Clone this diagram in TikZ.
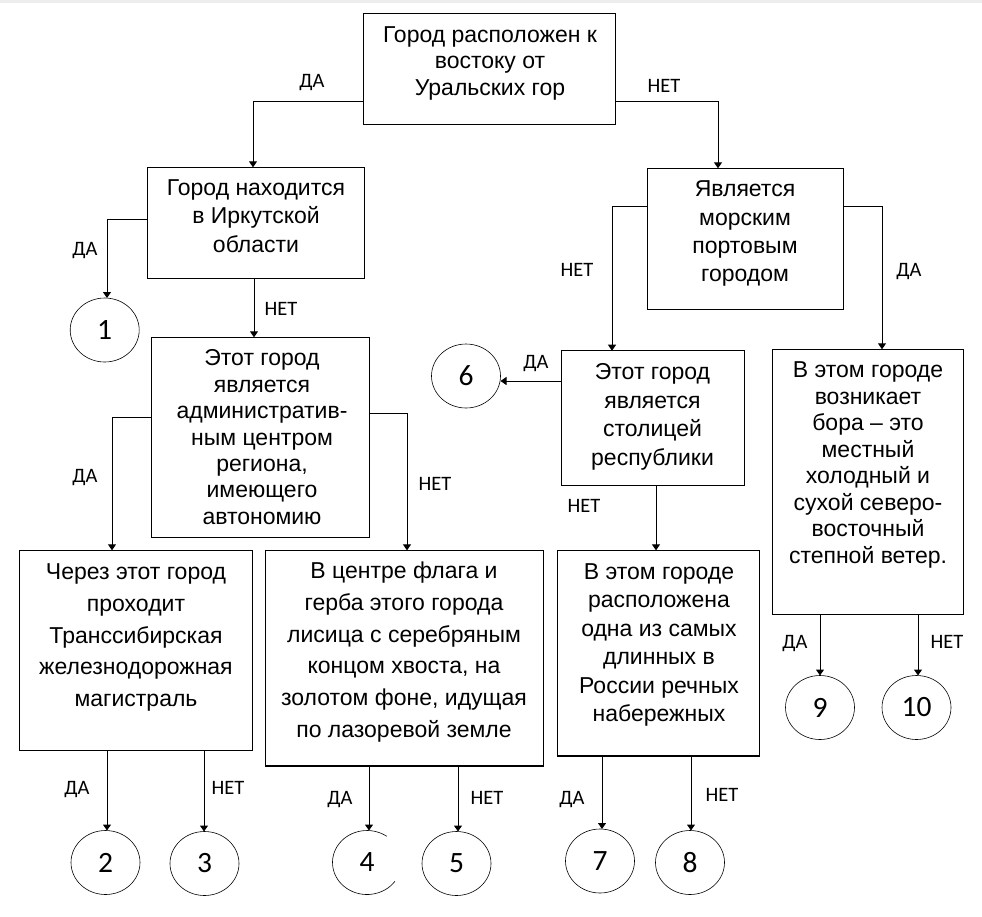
\documentclass[tikz,border=0pt]{standalone}
\usepackage{fontspec}
\setmainfont{Liberation Sans}
\newfontfamily\lblfont{Carlito}
\usetikzlibrary{arrows.meta,shapes.geometric}
\begin{document}
\begin{tikzpicture}[x=1pt,y=-1pt,
  box/.style={draw, line width=1.3pt, inner sep=0pt, outer sep=0pt},
  btxt/.style={anchor=base, align=center, inner sep=0pt, font={\fontsize{23}{#1}\selectfont}},
  circ/.style={ellipse, draw, line width=0.6pt, minimum width=69pt, minimum height=64pt, inner sep=0pt, outer sep=0pt, font={\lblfont\fontsize{29.5}{30}\selectfont}},
  lbl/.style={anchor=base, inner sep=0pt, font={\lblfont\fontsize{20.5}{22}\selectfont}},
  conn/.style={line width=1pt, -{Triangle[width=8pt,length=6pt]}}]
\useasboundingbox (0,0) rectangle (982,916);
\fill[black!7] (0,0) rectangle (982,2.5);

% boxes
\node[box, minimum width=252pt, minimum height=111pt] (A) at (489.3,68.8) {};
\node[box, minimum width=217pt, minimum height=111pt] (B) at (255.8,222.8) {};
\node[box, minimum width=196pt, minimum height=141pt] (C) at (745.3,238.8) {};
\node[box, minimum width=217.6pt, minimum height=200pt] (D) at (260.5,437.3) {};
\node[box, minimum width=183.4pt, minimum height=134.6pt] (E) at (653,418) {};
\node[box, minimum width=191pt, minimum height=265pt] (F) at (867.8,481.8) {};
\node[box, minimum width=233pt, minimum height=200pt] (G) at (135.8,650.3) {};
\node[box, minimum width=278pt, minimum height=215.7pt] (H) at (404.3,658.2) {};
\node[box, minimum width=202pt, minimum height=205.7pt] (I) at (658.3,653.2) {};

% box texts (anchor = baseline of the last line)
\node[btxt=26.4] (At) at (490,95.1) {Город расположен к\\востоку от\\Уральских гор};
\node[btxt=28.6] (Bt) at (256,252.3) {Город находится\\в Иркутской\\области};
\node[btxt=28.3] (Ct) at (745,281.7) {Является\\морским\\портовым\\городом};
\node[btxt=26.4] (Dt) at (262,524.3) {Этот город\\является\\административ-\\ным центром\\региона,\\имеющего\\автономию};
\node[btxt=28.4] (Et) at (652.5,465) {Этот город\\является\\столицей\\республики};
\node[btxt=26.5] (Ft) at (868,563.3) {В этом городе\\возникает\\бора – это\\местный\\холодный и\\сухой северо-\\восточный\\степной ветер.};
\node[btxt=31.8] (Gt) at (136,706.7) {Через этот город\\проходит\\Транссибирская\\железнодорожная\\магистраль};
\node[btxt=31.7] (Ht) at (404,737.3) {В центре флага и\\герба этого города\\лисица с серебряным\\концом хвоста, на\\золотом фоне, идущая\\по лазоревой земле};
\node[btxt=28.5] (It) at (659,721.7) {В этом городе\\расположена\\одна из самых\\длинных в\\России речных\\набережных};

% circles
\node[circ] (c1) at (104.7,330) {1};
\node[circ] (c6) at (466,376) {6};
\node[circ] (c2) at (105.5,862.5) {2};
\node[circ] (c3) at (204.5,863.5) {3};
\node[circ, draw=none] (c4) at (367,862.5) {4};
\draw[line width=0.6pt] ([shift={(36:34.5 and 32)}]c4.center) arc[start angle=36, end angle=305, x radius=34.5, y radius=32];
\node[circ] (c5) at (456.5,863.5) {5};
\node[circ] (c7) at (600,861) {7};
\node[circ] (c8) at (690,862.5) {8};
\node[circ] (c9) at (820,707.5) {9};
\node[circ] (c10) at (916.5,707.5) {10};

% corner coordinates
\coordinate (kAB) at (253,101);
\coordinate (kAC) at (718,101);
\coordinate (kB1) at (107,219);
\coordinate (kBD) at (254,300);
\coordinate (kCE) at (612,206);
\coordinate (kCF) at (882,206);
\coordinate (kE6) at (558,381);
\coordinate (kDG) at (112,417);
\coordinate (kDH) at (407,413);
\coordinate (kEI) at (656,500);
\coordinate (k2) at (107,800);
\coordinate (k3) at (204,800);
\coordinate (k4) at (369,800);
\coordinate (k5) at (458,800);
\coordinate (k7) at (602,800);
\coordinate (k8) at (691,800);
\coordinate (k9) at (820,650);
\coordinate (k10) at (918,650);

% connectors
\draw[conn] (A.west |- kAB) -- (kAB) -- (kAB |- B.north);
\draw[conn] (A.east |- kAC) -- (kAC) -- (kAC |- C.north);
\draw[conn] (B.west |- kB1) -- (kB1) -- (kB1 |- c1.north);
\draw[conn] (B.south -| kBD) -- (kBD |- D.north);
\draw[conn] (C.west |- kCE) -- (kCE) -- (kCE |- E.north);
\draw[conn] (C.east |- kCF) -- (kCF) -- (kCF |- F.north);
\draw[conn] (E.west |- kE6) -- (c6.east |- kE6);
\draw[conn] (D.west |- kDG) -- (kDG) -- (kDG |- G.north);
\draw[conn] (D.east |- kDH) -- (kDH) -- (kDH |- H.north);
\draw[conn] (E.south -| kEI) -- (kEI |- I.north);
\draw[conn] (G.south -| k2) -- (k2 |- c2.north);
\draw[conn] (G.south -| k3) -- (k3 |- c3.north);
\draw[conn] (H.south -| k4) -- (k4 |- c4.north);
\draw[conn] (H.south -| k5) -- (k5 |- c5.north);
\draw[conn] (I.south -| k7) -- (k7 |- c7.north);
\draw[conn] (I.south -| k8) -- (k8 |- c8.north);
\draw[conn] (F.south -| k9) -- (k9 |- c9.north);
\draw[conn] (F.south -| k10) -- (k10 |- c10.north);

% labels
\node[lbl] (l1) at (312,87.3) {ДА};
\node[lbl] (l2) at (664,92.7) {НЕТ};
\node[lbl] (l3) at (85,255) {ДА};
\node[lbl] (l4) at (281,315) {НЕТ};
\node[lbl] (l5) at (577,276.7) {НЕТ};
\node[lbl] (l6) at (909,276.7) {ДА};
\node[lbl] (l7) at (536,368.3) {ДА};
\node[lbl] (l8) at (85,482.7) {ДА};
\node[lbl] (l9) at (435,490.7) {НЕТ};
\node[lbl] (l10) at (584,512.7) {НЕТ};
\node[lbl] (l11) at (77,794.3) {ДА};
\node[lbl] (l12) at (228,794.3) {НЕТ};
\node[lbl] (l13) at (340,804.3) {ДА};
\node[lbl] (l14) at (487,804.3) {НЕТ};
\node[lbl] (l15) at (572,804.3) {ДА};
\node[lbl] (l16) at (722,801.7) {НЕТ};
\node[lbl] (l17) at (795,648.3) {ДА};
\node[lbl] (l18) at (947,648.3) {НЕТ};
\end{tikzpicture}
\end{document}
